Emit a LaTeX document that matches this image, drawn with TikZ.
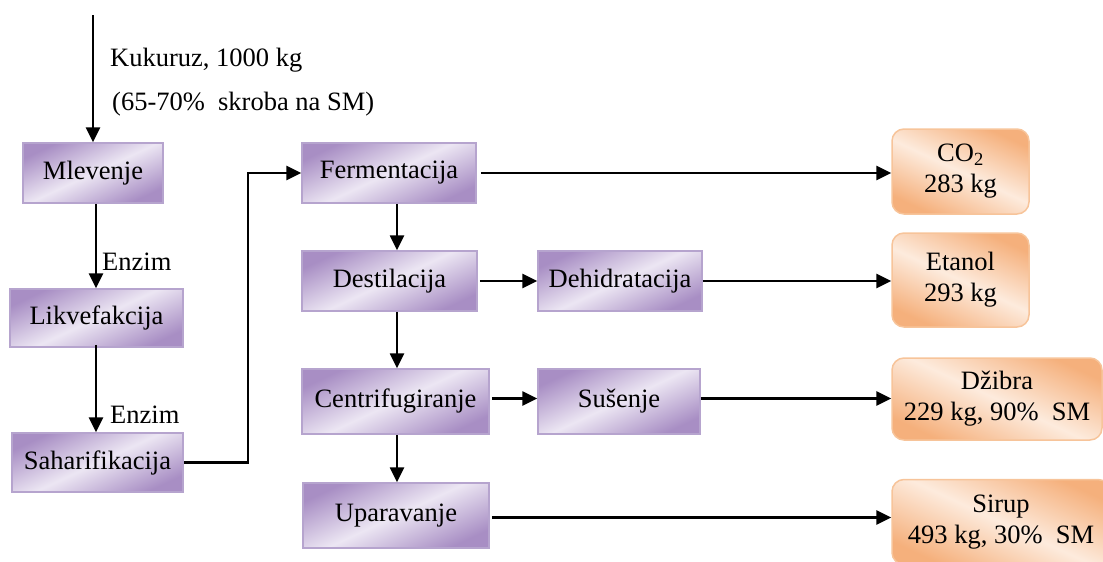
\documentclass[tikz,border=0pt]{standalone}
\usepackage{fontspec}
\setmainfont{Liberation Serif}
\usetikzlibrary{arrows.meta}
\definecolor{pdark}{HTML}{A88EC4}
\definecolor{plight}{HTML}{ECE6F3}
\definecolor{pborder}{HTML}{B6A4CE}
\definecolor{odark}{HTML}{F5B07C}
\definecolor{olight}{HTML}{FDEBDD}
\definecolor{oborder}{HTML}{F7C49A}
\tikzset{
  pbox/.style={rectangle, draw=pborder, line width=1.5pt, inner sep=0pt,
    shading=axis, top color=pdark, bottom color=pdark, middle color=plight, shading angle=25,
    font=\fontsize{26.5}{30}\selectfont, align=center},
  obox/.style={rectangle, rounded corners=12pt, draw=oborder, line width=1.5pt, inner sep=0pt,
    shading=axis, top color=odark, bottom color=odark, middle color=olight, shading angle=-25,
    font=\fontsize{26.5}{31}\selectfont, align=center},
  arr/.style={line width=2.6pt, -{Triangle[length=15pt,width=14pt]}},
  lbl/.style={font=\fontsize{26.5}{30}\selectfont, anchor=west, inner sep=0pt}
}
\begin{document}
\begin{tikzpicture}[x=1pt,y=-1pt]
\useasboundingbox (0,0) rectangle (1103,562);
\begin{scope}
\clip (0,0) rectangle (1103,562);
\node[pbox, minimum width=140pt, minimum height=60pt] (mlev) at (93,173) {Mlevenje};
\node[pbox, minimum width=173pt, minimum height=58pt] (likv) at (96.5,318) {Likvefakcija};
\node[pbox, minimum width=171pt, minimum height=59pt] (sahar) at (97.5,462.5) {Saharifikacija};
\node[pbox, minimum width=174pt, minimum height=60pt] (ferm) at (389,173) {Fermentacija};
\node[pbox, minimum width=175pt, minimum height=60pt] (dest) at (389.5,281) {Destilacija};
\node[pbox, minimum width=164pt, minimum height=60pt] (dehid) at (620,281) {Dehidratacija};
\node[pbox, minimum width=187pt, minimum height=65pt] (centr) at (395.5,401.5) {Centrifugiranje};
\node[pbox, minimum width=162pt, minimum height=65pt] (suse) at (619,401.5) {Sušenje};
\node[pbox, minimum width=186pt, minimum height=65pt] (upar) at (396,515.5) {Uparavanje};
\node[obox, minimum width=137pt, minimum height=85pt] (co2) at (960.5,171.5) {CO\textsubscript{2}\\283 kg};
\node[obox, minimum width=137pt, minimum height=94pt] (etanol) at (960.5,280) {Etanol\\293 kg};
\node[obox, minimum width=210pt, minimum height=82pt] (dzibra) at (997,399) {Džibra\\229 kg, 90\%\ \ SM};
\node[obox, minimum width=218pt, minimum height=85pt] (sirup) at (1001,522) {Sirup\\493 kg, 30\%\ \ SM};
\end{scope}
\coordinate (in) at (93,15);
\coordinate (bend) at (248,0);
\draw[arr] (in) -- (mlev.north);
\node[lbl] (k1) at (110,60) {Kukuruz, 1000 kg};
\node[lbl] (k2) at (112,104) {(65-70\%\ \ skroba na SM)};
\draw[arr] (mlev.south -| 96,0) -- (likv.north -| 96,0);
\node[lbl] (e1) at (102,262) {Enzim};
\draw[arr] ([yshift=3pt]likv.south -| 96,0) -- (sahar.north -| 96,0);
\node[lbl] (e2) at (110,415) {Enzim};
\draw[arr] (sahar.east) -- (sahar.east -| bend) -- (bend |- ferm.west) -- (ferm.west);
\draw[arr] ([xshift=4pt]ferm.east) -- (ferm.east -| co2.west);
\draw[arr] (ferm.south -| 397,0) -- (dest.north -| 397,0);
\draw[arr] ([xshift=2pt]dest.east) -- (dehid.west);
\draw[arr] (dehid.east) -- (dehid.east -| etanol.west);
\draw[arr] (dest.south -| 397,0) -- (centr.north -| 397,0);
\draw[arr] ([xshift=2pt,yshift=3pt]centr.east) -- ([yshift=3pt]suse.west);
\draw[arr] ([yshift=3pt]suse.east) -- ([yshift=3pt]suse.east -| dzibra.west);
\draw[arr] (centr.south -| 397,0) -- (upar.north -| 397,0);
\draw[arr] ([xshift=2pt,yshift=-2pt]upar.east) -- ([yshift=-2pt]upar.east -| sirup.west);
\end{tikzpicture}
\end{document}
